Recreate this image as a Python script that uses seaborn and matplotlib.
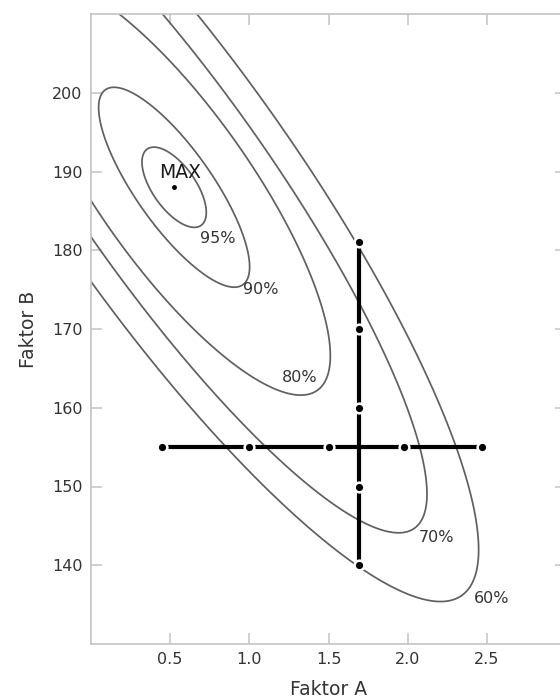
import numpy as np
import pandas as pd
import matplotlib
matplotlib.use("Agg")
import matplotlib.pyplot as plt
import seaborn as sns

sns.set_theme(style="white")
plt.rcParams["font.family"] = ["DejaVu Sans"]

# ---- data ----
max_a = 0.525          # Faktor A at the maximum
max_b = 188.0          # Faktor B at the maximum
levels_pct = [95, 90, 80, 70, 60]
semi_major = [0.296, 0.756, 1.575, 2.644, 3.165]   # in Faktor-A units
semi_minor = [0.136, 0.242, 0.484, 0.611, 0.775]
tilt_deg = -55.0       # major axis orientation
b_per_a = 20.0         # Faktor-B units per Faktor-A unit on the ellipse axes
label_a = [0.80, 1.073, 1.316, 2.18, 2.53]
label_b = [181.5, 175.0, 163.8, 143.5, 135.75]

horiz_a = [0.45, 1.0, 1.5, 1.98, 2.47]
horiz_b = [155, 155, 155, 155, 155]
vert_a = [1.69, 1.69, 1.69, 1.69, 1.69]
vert_b = [140, 150, 160, 170, 181]

xticks = [0.5, 1.0, 1.5, 2.0, 2.5]
xticklabels = ["0.5", "1.0", "1.5", "2.0", "2.5"]
yticks = [140, 150, 160, 170, 180, 190, 200]
yticklabels = ["140", "150", "160", "170", "180", "190", "200"]

# ---- figure ----
fig = plt.figure(figsize=(5.6, 7.0), dpi=100)
ax = fig.add_axes([91 / 560, 56 / 700, (566 - 91) / 560, 630 / 700])
ax.set_xlim(0, 3.0)
ax.set_ylim(130, 210)

# contour surface: one ellipse function per level
xs = np.linspace(0, 3.0, 700)
ys = np.linspace(130, 210, 700)
X, Y = np.meshgrid(xs, ys)
th = np.deg2rad(tilt_deg)
U = X - max_a
W = (Y - max_b) / b_per_a
S = U * np.cos(th) + W * np.sin(th)
T = -U * np.sin(th) + W * np.cos(th)
for M, m in zip(semi_major, semi_minor):
    E = (S / M) ** 2 + (T / m) ** 2
    ax.contour(X, Y, E, levels=[1.0], colors="#606060", linewidths=1.25, zorder=2)

for pct, la, lb in zip(levels_pct, label_a, label_b):
    ax.text(la, lb, f"{pct}%", ha="center", va="center", fontsize=11.5,
            color="#333333", zorder=3)

# maximum
ax.plot([max_a], [max_b], "o", color="black", markersize=2.5, zorder=4)
ax.text(0.563, 189.9, "MAX", ha="center", va="center", fontsize=13.5,
        color="#1a1a1a", zorder=4)

# one-factor-at-a-time paths
df_h = pd.DataFrame({"a": horiz_a, "b": horiz_b})
df_v = pd.DataFrame({"a": vert_a, "b": vert_b})
for df in (df_h, df_v):
    sns.lineplot(data=df, x="a", y="b", ax=ax, estimator=None, sort=False,
                 color="black", linewidth=3.0, marker="o", markersize=7,
                 markeredgecolor="white", markeredgewidth=1.8, zorder=5)

# axes styling
ax.set_xticks(xticks)
ax.set_xticklabels(xticklabels)
ax.set_yticks(yticks)
ax.set_yticklabels(yticklabels)
ax.tick_params(axis="both", direction="in", length=8, width=1.1, color="#c4c4c4",
               labelsize=11.5, labelcolor="#333333", pad=6,
               bottom=True, left=True, top=True, right=True,
               labeltop=False, labelright=False)
for sp in ax.spines.values():
    sp.set_color("#c4c4c4")
    sp.set_linewidth(1.2)
ax.set_xlabel("Faktor A", fontsize=13.5, color="#333333", labelpad=9)
ax.set_ylabel("Faktor B", fontsize=13.5, color="#333333", labelpad=10)
ax.grid(False)

fig.savefig("out.png", dpi=100)
